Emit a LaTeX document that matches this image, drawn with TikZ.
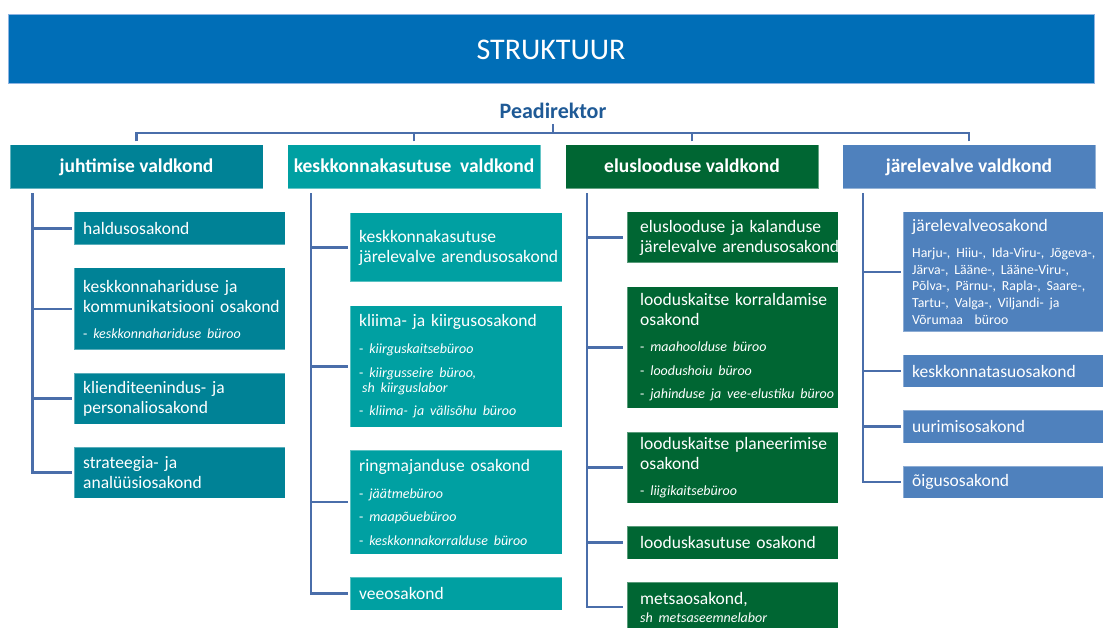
\documentclass[tikz,border=0pt]{standalone}
\usepackage{fontspec}
\setmainfont{Carlito}
\frenchspacing
\definecolor{titleblue}{RGB}{0,110,183}
\definecolor{titleedge}{RGB}{141,180,226}
\definecolor{pdblue}{RGB}{31,90,150}
\definecolor{linec}{RGB}{74,110,170}
\definecolor{cA}{RGB}{0,130,150}
\definecolor{cB}{RGB}{0,160,162}
\definecolor{cC}{RGB}{0,102,51}
\definecolor{cD}{RGB}{79,129,189}
\newcommand\hd{\fontsize{17.5}{20}\selectfont}
\newcommand\itm[2][8.5pt]{\par\vspace{#1}{\fontsize{14}{15}\selectfont - \textit{#2}\par}}
\tikzset{
  conn/.style={draw=linec, line width=2.3pt},
  bar/.style={fill=titleblue, draw=titleedge, line width=1pt, minimum width=1086pt, minimum height=69pt, inner sep=0pt, text=white, font=\fontsize{30}{36}\selectfont},
  head/.style={text=pdblue, font=\bfseries\fontsize{22}{26}\selectfont, inner sep=0pt, outer sep=5pt},
  vbox/.style={minimum width=253pt, minimum height=44pt, inner sep=0pt, text=white, font=\bfseries\fontsize{19.5}{23}\selectfont, text height=11pt, text depth=0pt, draw=white, draw opacity=0.4, line width=1pt},
  ubox/.style={anchor=north west, inner sep=0pt, outer sep=0pt, draw=white, draw opacity=0.35, line width=1pt},
  utext/.style={anchor=west, inner sep=0pt, text width=250pt, align=left, text=white, font=\hd},
}
\begin{document}
\begin{tikzpicture}[x=1pt,y=-1pt]
\useasboundingbox (0,0) rectangle (1106,628);
% title
\node[bar] (title) at (551,49.5) {STRUKTUUR};
\node[head] (pd) at (553,111) {Peadirektor};
\coordinate (hub) at (553,133);
% areas
\node[vbox, fill=cA] (v1) at (136.5,167) {juhtimise valdkond};
\node[vbox, fill=cB] (v2) at (414,167) {keskkonnakasutuse\ \ valdkond};
\node[vbox, fill=cC] (v3) at (692,167) {eluslooduse valdkond};
\node[vbox, fill=cD] (v4) at (969,167) {järelevalve valdkond};
\draw[conn] (pd.south) -- (hub);
\foreach \v in {v1,v2,v3,v4}{\draw[conn] ([yshift=3pt]\v.north) |- (hub);}
% column 1
\node[ubox, fill=cA, minimum width=211pt, minimum height=33pt] (b11) at (74,212) {};
\node[utext] (t11) at ([xshift=9pt]b11.west) {haldusosakond};
\node[ubox, fill=cA, minimum width=211pt, minimum height=82pt] (b12) at (74,268) {};
\node[utext] (t12) at ([xshift=9pt]b12.west) {keskkonnahariduse ja\\kommunikatsiooni osakond\itm[11pt]{keskkonnahariduse\ büroo}};
\node[ubox, fill=cA, minimum width=211pt, minimum height=51pt] (b13) at (74,373) {};
\node[utext] (t13) at ([xshift=9pt]b13.west) {klienditeenindus- ja\\personaliosakond};
\node[ubox, fill=cA, minimum width=211pt, minimum height=51pt] (b14) at (74,447) {};
\node[utext] (t14) at ([xshift=9pt]b14.west) {strateegia- ja\\analüüsiosakond};
% column 2
\node[ubox, fill=cB, minimum width=212pt, minimum height=69pt] (b21) at (350,213) {};
\node[utext] (t21) at ([xshift=9pt]b21.west) {keskkonnakasutuse\\järelevalve arendusosakond};
\node[ubox, fill=cB, minimum width=212pt, minimum height=121pt] (b22) at (350,306) {};
\node[utext] (t22) at ([xshift=9pt]b22.west) {kliima- ja kiirgusosakond\itm[12pt]{kiirguskaitsebüroo}\itm{kiirgusseire büroo,\\\hspace*{3pt}sh kiirguslabor}\itm{kliima- ja välisõhu büroo}};
\node[ubox, fill=cB, minimum width=212pt, minimum height=104pt] (b23) at (350,450) {};
\node[utext] (t23) at ([xshift=9pt]b23.west) {ringmajanduse osakond\itm[12pt]{jäätmebüroo}\itm{maapõuebüroo}\itm{keskkonnakorralduse\ büroo}};
\node[ubox, fill=cB, minimum width=212pt, minimum height=33pt] (b24) at (350,577) {};
\node[utext] (t24) at ([xshift=9pt]b24.west) {veeosakond};
% column 3
\node[ubox, fill=cC, minimum width=211pt, minimum height=51pt] (b31) at (627,212) {};
\node[utext] (t31) at ([xshift=13pt]b31.west) {eluslooduse ja kalanduse\\järelevalve arendusosakond};
\node[ubox, fill=cC, minimum width=211pt, minimum height=121pt] (b32) at (627,287) {};
\node[utext] (t32) at ([xshift=13pt]b32.west) {looduskaitse korraldamise\\osakond\itm[11pt]{maahoolduse büroo}\itm{loodushoiu büroo}\itm{jahinduse ja vee-elustiku büroo}};
\node[ubox, fill=cC, minimum width=211pt, minimum height=71pt] (b33) at (627,432) {};
\node[utext] (t33) at ([xshift=13pt]b33.west) {looduskaitse planeerimise\\osakond\itm[11pt]{liigikaitsebüroo}};
\node[ubox, fill=cC, minimum width=211pt, minimum height=33pt] (b34) at (627,526) {};
\node[utext] (t34) at ([xshift=13pt]b34.west) {looduskasutuse osakond};
\node[ubox, fill=cC, minimum width=211pt, minimum height=50pt] (b35) at (627,582) {};
\node[utext] (t35) at ([xshift=13pt]b35.west) {metsaosakond,\par{\fontsize{14}{18}\selectfont\itshape sh metsaseemnelabor\par}};
% column 4
\node[ubox, fill=cD, minimum width=200pt, minimum height=120pt] (b41) at (903,212) {};
\node[utext] (t41) at ([xshift=9pt]b41.west) {järelevalveosakond\par\vspace{9pt}{\fontsize{13.8}{16.7}\selectfont Harju-, Hiiu-, Ida-Viru-, Jõgeva-,\\Järva-, Lääne-, Lääne-Viru-,\\Põlva-, Pärnu-, Rapla-, Saare-,\\Tartu-, Valga-, Viljandi- ja\\Võrumaa\ \ büroo\par}};
\node[ubox, fill=cD, minimum width=200pt, minimum height=32pt] (b42) at (903,355) {};
\node[utext] (t42) at ([xshift=9pt]b42.west) {keskkonnatasuosakond};
\node[ubox, fill=cD, minimum width=200pt, minimum height=33pt] (b43) at (903,410) {};
\node[utext] (t43) at ([xshift=9pt]b43.west) {uurimisosakond};
\node[ubox, fill=cD, minimum width=200pt, minimum height=32pt] (b44) at (903,466) {};
\node[utext] (t44) at ([xshift=9pt]b44.west) {õigusosakond};
% trunks and branches
\coordinate (tr1) at ([xshift=23pt,yshift=-4pt]v1.south west);
\coordinate (tr2) at ([xshift=24pt,yshift=-4pt]v2.south west);
\coordinate (tr3) at ([xshift=22pt,yshift=-4pt]v3.south west);
\coordinate (tr4) at ([xshift=21pt,yshift=-4pt]v4.south west);
\draw[conn] (tr1) |- ([xshift=-2pt]b14.west);
\draw[conn] (tr2) |- ([xshift=-2pt]b24.west);
\draw[conn] (tr3) |- ([xshift=-4pt]b35.west);
\draw[conn] (tr4) |- ([xshift=-2pt]b44.west);
\foreach \b in {b11,b12,b13}{\draw[conn] (tr1 |- \b.west) -- ([xshift=-2pt]\b.west);}
\foreach \b in {b21,b22,b23}{\draw[conn] (tr2 |- \b.west) -- ([xshift=-2pt]\b.west);}
\foreach \b in {b31,b32,b33,b34}{\draw[conn] (tr3 |- \b.west) -- ([xshift=-4pt]\b.west);}
\foreach \b in {b41,b42,b43}{\draw[conn] (tr4 |- \b.west) -- ([xshift=-2pt]\b.west);}
\end{tikzpicture}
\end{document}
